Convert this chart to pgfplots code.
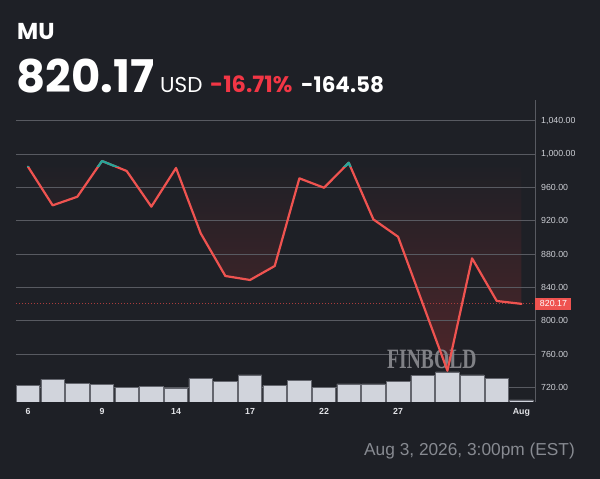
\documentclass[border=0pt]{standalone}
\usepackage{fontspec}
\usepackage{pgfplots}
\pgfplotsset{compat=1.18}
\setmainfont{Liberation Sans}
\newfontfamily\pop{Poppins}
\newfontfamily\libserif{Liberation Serif}
\definecolor{bg}{RGB}{30,32,38}
\definecolor{gridc}{RGB}{88,90,97}
\definecolor{linered}{RGB}{239,83,80}
\definecolor{tealc}{RGB}{38,166,154}
\definecolor{pctred}{RGB}{242,54,69}
\definecolor{barfill}{RGB}{209,212,220}
\definecolor{bardraw}{RGB}{100,102,110}
\definecolor{labc}{RGB}{205,207,213}
\definecolor{fillred}{RGB}{78,38,42}

\pgfplotstableread{
day price
0 984.75
1 938.4
2 948.7
3 991.6
4 979.6
5 936.8
6 983.2
7 904.8
8 853.6
9 848.8
10 865.6
11 970.8
12 959.5
13 989.5
14 921.5
15 900.7
16 820.4
17 740.0
18 874.8
19 823.6
20 820.17
}\pricetab

\pgfplotstableread{
day vol
0 16.7
1 22.7
2 18.7
3 17.7
4 14.7
5 15.7
6 13.7
7 23.3
8 20.7
9 27.0
10 16.3
11 21.3
12 14.3
13 18.0
14 18.0
15 20.7
16 26.7
17 30.0
18 27.0
19 23.3
20 2.0
}\voltab

\begin{document}
\begin{tikzpicture}[x=1pt,y=1pt]
\fill[bg] (0,0) rectangle (600,479);

% header
\node[anchor=base west, inner sep=0, text=white] at (17,439) {\pop\bfseries\fontsize{23}{26}\selectfont MU};
\node[anchor=base west, inner sep=0, text=white] at (16,386) {\pop\bfseries\fontsize{45}{50}\selectfont 820.17};
\node[anchor=base west, inner sep=0, text=white] at (160,386) {\pop\fontsize{21.5}{24}\selectfont USD};
\node[anchor=base west, inner sep=0, text=pctred] at (210,386) {\pop\bfseries\fontsize{22.5}{25}\selectfont -16.71\%};
\node[anchor=base west, inner sep=0, text=white] at (301,386) {\pop\bfseries\fontsize{21.5}{24}\selectfont -164.58};

% timestamp
\node[anchor=base east, inner sep=0, text={rgb,255:red,135;green,138;blue,145}] at (575,23) {\fontsize{17.3}{20}\selectfont Aug 3, 2026, 3:00pm (EST)};

% axis 1: fill + grid + labels
\begin{axis}[
  at={(16pt,77pt)}, anchor=south west, scale only axis,
  width=519pt, height=302pt,
  xmin=-0.486, xmax=20.55, ymin=702.4, ymax=1064.8,
  axis on top,
  axis x line*=bottom, axis y line*=right,
  x axis line style={draw=none},
  y axis line style={draw=gridc, line width=0.8pt},
  major tick length=0pt,
  ytick={720,760,800,840,880,920,960,1000,1040},
  yticklabels={720.00,760.00,800.00,840.00,880.00,920.00,960.00,{1,000.00},{1,040.00}},
  yticklabel style={anchor=west, inner sep=0pt, xshift=6pt, text=labc, font=\fontsize{8.8}{10}\selectfont},
  xtick={0,3,6,9,12,15,20},
  xticklabels={6,9,14,17,22,27,Aug},
  xticklabel style={anchor=north, inner sep=0pt, yshift=-6pt, text={rgb,255:red,225;green,226;blue,230}, font=\bfseries\fontsize{8.8}{10}\selectfont},
  ymajorgrids, major grid style={draw=gridc, line width=0.8pt},
]
\addplot[draw=none, top color=bg, bottom color=fillred]
  table[x=day, y=price] {\pricetab} -- (axis cs:20,984.75) -- (axis cs:0,984.75) -- cycle;
\end{axis}

% axis 2: volume bars
\begin{axis}[
  at={(16pt,77pt)}, anchor=south west, scale only axis,
  width=519pt, height=302pt,
  xmin=-0.486, xmax=20.55, ymin=0, ymax=302,
  hide axis,
]
\addplot[ybar, bar width=0.955, fill=barfill, draw=bardraw, line width=0.7pt]
  table[x=day, y=vol] {\voltab};
\end{axis}

% watermark
\node[anchor=base west, inner sep=0, text={rgb,255:red,128;green,129;blue,134}] at (387,110)
  {\scalebox{0.7}[1]{\libserif\bfseries\fontsize{28}{30}\selectfont FINBOLD}};

% axis 3: line
\begin{axis}[
  at={(16pt,77pt)}, anchor=south west, scale only axis,
  width=519pt, height=302pt,
  xmin=-0.486, xmax=20.55, ymin=702.4, ymax=1064.8,
  hide axis, clip=false,
]
\addplot[draw={rgb,255:red,170;green,60;blue,60}, line width=0.9pt, dash pattern=on 1pt off 2pt]
  coordinates {(-0.486,820.17) (20.55,820.17)};
\addplot[draw=linered, line width=2.2pt, line join=round, line cap=round]
  table[x=day, y=price] {\pricetab};
\begin{scope}
\clip (axis cs:-1,984.75) rectangle (axis cs:21,1064.8);
\addplot[draw=tealc, line width=2.2pt, line join=round, line cap=round]
  table[x=day, y=price] {\pricetab};
\end{scope}
\node[anchor=west, fill=linered, text=white, inner sep=0pt, minimum width=36pt, minimum height=12pt,
  font=\fontsize{8.8}{10}\selectfont] at (axis cs:20.55,820.17) {\hspace{0.5pt}820.17};
\end{axis}
\end{tikzpicture}
\end{document}
